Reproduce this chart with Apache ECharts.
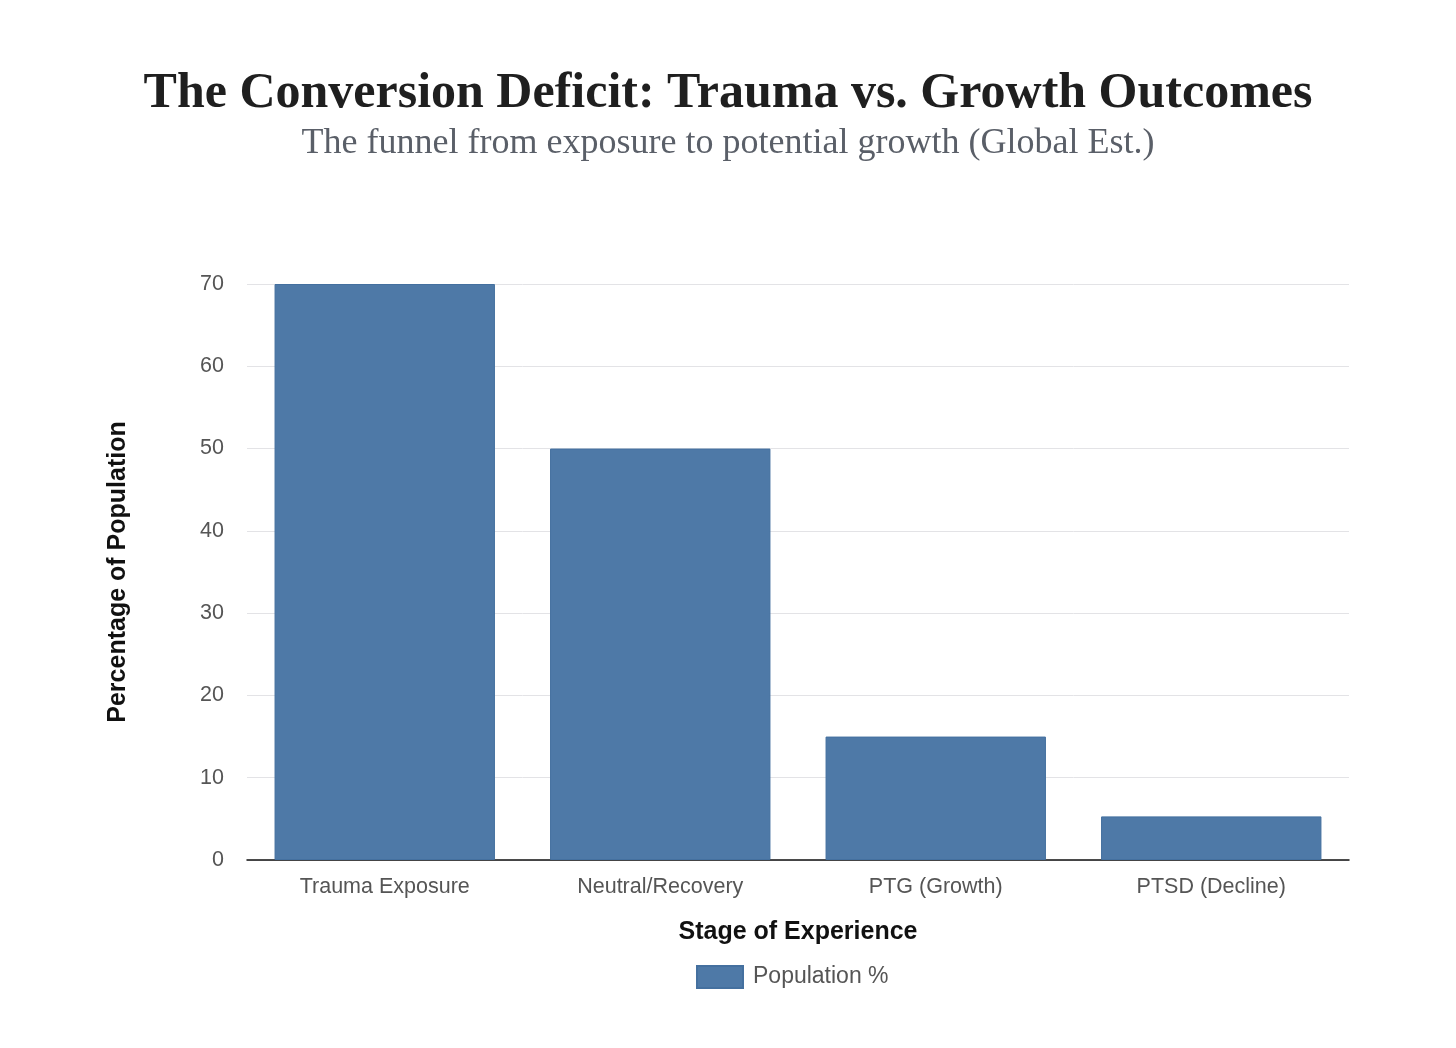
<!DOCTYPE html>
<html><head><meta charset="utf-8">
<script src="https://cdn.jsdelivr.net/npm/echarts@6/dist/echarts.min.js"></script>
<style>html,body{margin:0;padding:0;background:#fff}#c{width:1456px;height:1048px}</style>
</head><body><div id="c"></div>
<script>
const categories = ['Trauma Exposure', 'Neutral/Recovery', 'PTG (Growth)', 'PTSD (Decline)'];
const populationPct = [70, 50, 15, 5.3];
const seriesName = 'Population %';

const chart = echarts.init(document.getElementById('c'));
chart.setOption({
  backgroundColor: '#fff',
  title: [{
    text: 'The Conversion Deficit: Trauma vs. Growth Outcomes',
    left: 'center', top: 64,
    textStyle: { fontFamily: 'Liberation Serif', fontWeight: 'bold', fontSize: 50, color: '#1f1f1f' }
  }, {
    text: 'The funnel from exposure to potential growth (Global Est.)',
    left: 'center', top: 121,
    textStyle: { fontFamily: 'Liberation Serif', fontWeight: 'normal', fontSize: 36, color: '#5a5f68' }
  }],
  legend: {
    bottom: 54, left: 691,
    itemWidth: 46, itemHeight: 22, itemGap: 10,
    icon: 'rect',
    textStyle: { fontFamily: 'Liberation Sans', fontSize: 23, color: '#555', padding: [0, 0, 0, 5] },
    data: [seriesName]
  },
  grid: { left: 247, right: 107, top: 284, bottom: 188, containLabel: false },
  xAxis: {
    type: 'category', data: categories,
    name: 'Stage of Experience', nameLocation: 'middle', nameGap: 60,
    nameTextStyle: { fontFamily: 'Liberation Sans', fontWeight: 'bold', fontSize: 25, color: '#111' },
    axisLine: { lineStyle: { color: '#111', width: 1.5 } },
    axisTick: { show: false },
    axisLabel: { fontFamily: 'Liberation Sans', fontSize: 21.5, color: '#555', margin: 16 }
  },
  yAxis: {
    type: 'value', min: 0, max: 70, interval: 10,
    name: 'Percentage of Population', nameLocation: 'middle', nameGap: 116,
    nameTextStyle: { fontFamily: 'Liberation Sans', fontWeight: 'bold', fontSize: 25, color: '#111' },
    axisLine: { show: false }, axisTick: { show: false },
    axisLabel: { fontFamily: 'Liberation Sans', fontSize: 21.5, color: '#555', margin: 23 },
    splitLine: { lineStyle: { color: '#e3e3e6', width: 1 } }
  },
  series: [{
    name: seriesName, type: 'bar', data: populationPct,
    barWidth: '80%',
    itemStyle: { color: '#4e79a7', borderColor: '#44709f', borderWidth: 1 }
  }]
});
</script></body></html>
